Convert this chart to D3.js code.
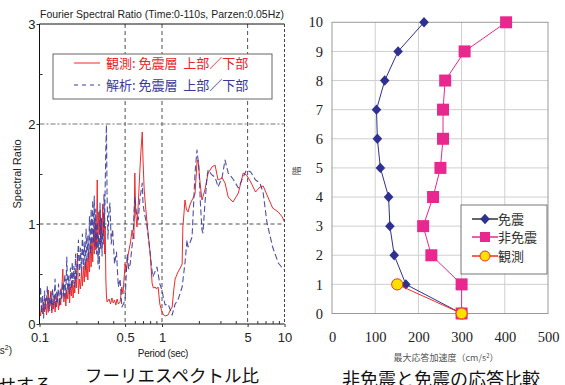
<!DOCTYPE html>
<html>
<head>
<meta charset="utf-8">
<script src="https://cdn.jsdelivr.net/npm/d3@7"></script>
<style>
  body { margin: 0; background: #fff; }
  svg { display: block; }
  .sans { font-family: "Liberation Sans", Arial, sans-serif; }
  .jp { font-family: "Noto Sans CJK JP", sans-serif; }
  .serif { font-family: "Times New Roman", "Liberation Serif", Tinos, "DejaVu Serif", serif; }
</style>
</head>
<body>
<svg id="chart" width="565" height="385"></svg>
<script>
// ---- left chart: Fourier spectral ratio (period sec, ratio) ----
var observed = [
  [0.100,0.14],[0.102,0.08],[0.104,0.19],[0.106,0.10],[0.108,0.22],[0.110,0.12],[0.112,0.26],[0.114,0.09],
  [0.116,0.18],[0.118,0.34],[0.120,0.13],[0.122,0.24],[0.124,0.33],[0.126,0.11],[0.128,0.21],[0.130,0.15],
  [0.132,0.28],[0.134,0.12],[0.136,0.23],[0.138,0.17],[0.140,0.30],[0.143,0.14],[0.146,0.26],[0.149,0.19],
  [0.152,0.36],[0.155,0.55],[0.158,0.22],[0.161,0.31],[0.164,0.18],[0.167,0.34],[0.170,0.25],[0.173,0.40],
  [0.176,0.21],[0.179,0.37],[0.182,0.28],[0.185,0.44],[0.188,0.26],[0.191,0.39],[0.194,0.31],[0.197,0.48],
  [0.200,0.36],[0.204,0.71],[0.208,0.30],[0.212,0.45],[0.216,0.35],[0.220,0.52],[0.224,0.38],[0.228,0.58],
  [0.232,0.42],[0.236,0.62],[0.240,0.47],[0.244,0.66],[0.248,0.44],[0.252,0.72],[0.256,0.52],[0.260,0.80],
  [0.264,0.57],[0.268,0.86],[0.272,0.62],[0.276,0.95],[0.280,0.70],[0.284,1.05],[0.288,0.74],[0.292,0.84],
  [0.296,1.44],[0.300,0.82],[0.304,1.12],[0.308,0.90],[0.312,1.14],[0.316,0.78],[0.320,1.06],[0.324,0.85],
  [0.328,1.20],[0.332,0.92],[0.336,1.10],[0.340,0.70],[0.344,0.98],[0.348,0.45],[0.352,0.28],[0.356,0.22],
  [0.37,0.25],[0.38,0.20],[0.39,0.26],[0.40,0.21],[0.41,0.24],[0.42,0.19],[0.43,0.25],[0.44,0.20],
  [0.455,0.22],[0.47,0.37],[0.48,0.30],[0.50,0.60],[0.51,0.52],[0.53,0.70],[0.55,0.80],[0.57,0.94],
  [0.59,0.85],[0.60,1.51],[0.61,1.10],[0.625,0.97],[0.64,1.20],[0.66,1.54],[0.675,1.75],[0.69,1.92],
  [0.70,1.64],[0.715,1.35],[0.73,1.21],[0.75,1.05],[0.77,0.91],[0.80,0.71],[0.83,0.41],[0.85,0.36],
  [0.88,0.37],[0.90,0.35],[0.93,0.37],[0.96,0.20],[1.00,0.12],[1.03,0.09],[1.06,0.08],[1.12,0.09],
  [1.16,0.13],[1.21,0.17],[1.25,0.35],[1.28,0.45],[1.35,0.52],[1.41,0.56],[1.46,0.60],[1.48,0.97],
  [1.51,1.10],[1.54,1.24],[1.58,1.15],[1.63,1.12],[1.70,1.20],[1.76,1.24],[1.86,1.30],[1.93,1.61],
  [1.97,1.64],[2.05,1.40],[2.12,1.24],[2.24,1.34],[2.38,1.51],[2.56,1.57],[2.71,1.59],[2.87,1.44],
  [3.1,1.46],[3.27,1.41],[3.47,1.27],[3.8,1.22],[4.2,1.31],[4.6,1.51],[4.9,1.49],[5.3,1.42],
  [5.8,1.32],[6.3,1.37],[6.7,1.38],[7.2,1.29],[8.0,1.16],[8.9,1.12],[9.6,1.07],[10,1.02]
];

var analysed = [
  [0.100,0.20],[0.102,0.37],[0.104,0.11],[0.106,0.28],[0.108,0.06],[0.110,0.33],[0.112,0.15],[0.114,0.24],
  [0.116,0.38],[0.118,0.12],[0.120,0.26],[0.122,0.18],[0.124,0.31],[0.126,0.14],[0.128,0.35],[0.130,0.19],
  [0.132,0.27],[0.134,0.45],[0.136,0.17],[0.138,0.32],[0.140,0.22],[0.143,0.40],[0.146,0.18],[0.149,0.35],
  [0.152,0.24],[0.155,0.42],[0.158,0.28],[0.161,0.50],[0.164,0.26],[0.167,0.67],[0.170,0.33],[0.173,0.48],
  [0.176,0.30],[0.179,0.56],[0.182,0.35],[0.185,0.62],[0.188,0.40],[0.191,0.58],[0.194,0.37],[0.197,0.70],
  [0.200,0.45],[0.204,0.60],[0.208,0.84],[0.212,0.48],[0.216,0.76],[0.220,0.52],[0.224,0.90],[0.228,0.58],
  [0.232,0.82],[0.236,0.55],[0.240,0.95],[0.244,0.62],[0.248,0.88],[0.252,0.66],[0.256,1.08],[0.260,0.70],
  [0.264,1.15],[0.268,0.75],[0.272,1.24],[0.276,0.82],[0.280,1.28],[0.284,0.78],[0.288,1.15],[0.292,0.70],
  [0.296,1.02],[0.300,0.60],[0.304,0.88],[0.308,0.55],[0.312,1.21],[0.316,0.75],[0.320,1.05],[0.324,0.68],
  [0.328,0.92],[0.332,0.80],[0.336,1.30],[0.340,0.96],[0.344,1.40],[0.348,1.75],[0.352,1.99],[0.356,1.30],
  [0.362,0.85],[0.368,1.10],[0.376,1.21],[0.385,0.80],[0.395,0.95],[0.41,0.60],[0.425,0.72],[0.44,0.37],
  [0.455,0.45],[0.47,0.17],[0.485,0.20],[0.50,0.24],[0.52,0.70],[0.535,0.55],[0.55,0.60],[0.58,0.87],
  [0.60,1.27],[0.62,1.10],[0.64,1.04],[0.66,1.25],[0.69,1.41],[0.70,1.20],[0.72,1.10],[0.75,1.00],
  [0.80,0.71],[0.84,0.47],[0.875,0.52],[0.91,0.57],[0.96,0.40],[1.00,0.34],[1.02,0.28],[1.06,0.19],
  [1.12,0.20],[1.17,0.14],[1.21,0.09],[1.28,0.20],[1.35,0.24],[1.46,0.37],[1.54,0.61],[1.60,0.84],
  [1.63,0.77],[1.70,0.82],[1.76,0.87],[1.86,1.51],[1.93,1.74],[2.00,1.57],[2.06,1.20],[2.12,0.94],
  [2.16,0.91],[2.24,1.20],[2.33,1.47],[2.38,1.54],[2.56,1.49],[2.71,1.47],[2.87,1.37],[3.1,1.47],
  [3.27,1.64],[3.47,1.51],[3.8,1.45],[4.2,1.36],[4.6,1.47],[4.9,1.54],[5.3,1.52],[5.8,1.44],
  [6.3,1.41],[6.7,1.31],[7.2,1.01],[8.0,0.77],[8.9,0.61],[9.6,0.56],[10,0.54]
];

var periodTicks = [0.1, 0.5, 1, 5, 10];
var periodMinor = [0.2, 0.3, 0.4, 0.6, 0.7, 0.8, 0.9, 2, 3, 4, 6, 7, 8, 9];
var ratioTicks = [0, 1, 2, 3];
var ratioMinor = [0.5, 1.5, 2.5];

// ---- right chart: peak response acceleration per floor ----
var floors = [0, 1, 2, 3, 4, 5, 6, 7, 8, 9, 10];
var isolatedAcc = [300, 171, 144, 134, 131, 112, 105, 103, 122, 153, 213];
var nonIsolatedAcc = [300, 300, 230, 211, 234, 251, 257, 257, 262, 307, 403];
var measuredFloors = [0, 1];
var measuredAcc = [300, 151];
var accTicks = [0, 100, 200, 300, 400, 500];

var svg = d3.select("#chart");
svg.append("rect").attr("width", 565).attr("height", 385).attr("fill", "#fff");

// ===================== left chart =====================
var x1 = d3.scaleLog().domain([0.1, 10]).range([39.5, 284.5]);
var y1 = d3.scaleLinear().domain([0, 3]).range([324, 24]);

// dashed grid
svg.append("g").selectAll("line").data([0.5, 1, 5]).join("line")
  .attr("x1", d => x1(d)).attr("x2", d => x1(d))
  .attr("y1", y1(3)).attr("y2", y1(0))
  .attr("stroke", "#222").attr("stroke-width", 0.8).attr("stroke-dasharray", "4,3");
svg.append("line")
  .attr("x1", x1(0.1)).attr("x2", x1(10)).attr("y1", y1(1)).attr("y2", y1(1))
  .attr("stroke", "#222").attr("stroke-width", 0.8).attr("stroke-dasharray", "4,3");
svg.append("line")
  .attr("x1", x1(0.1)).attr("x2", x1(10)).attr("y1", y1(2)).attr("y2", y1(2))
  .attr("stroke", "#777").attr("stroke-width", 1).attr("stroke-dasharray", "5,2,2,2");

// spectra
var spec = d3.line().x(d => x1(d[0])).y(d => y1(d[1]));
svg.append("path").datum(observed)
  .attr("fill", "none").attr("stroke", "#ee2b2b").attr("stroke-width", 1)
  .attr("stroke-linejoin", "round").attr("d", spec);
svg.append("path").datum(analysed)
  .attr("fill", "none").attr("stroke", "#3b3c9c").attr("stroke-width", 1.1).attr("stroke-opacity", 0.9)
  .attr("stroke-dasharray", "6,3").attr("stroke-linejoin", "round").attr("d", spec);

// frame
svg.append("line").attr("x1", 39.5).attr("x2", 39.5).attr("y1", 24).attr("y2", 324).attr("stroke", "#111");
svg.append("line").attr("x1", 39.5).attr("x2", 284.5).attr("y1", 324).attr("y2", 324).attr("stroke", "#111");
svg.append("line").attr("x1", 39.5).attr("x2", 284.5).attr("y1", 24).attr("y2", 24).attr("stroke", "#111");
svg.append("line").attr("x1", 284.5).attr("x2", 284.5).attr("y1", 24).attr("y2", 324)
  .attr("stroke", "#444").attr("stroke-dasharray", "3,2");

// axes
var xAxis1 = svg.append("g").attr("transform", "translate(0,324)")
  .call(d3.axisBottom(x1).tickValues(periodTicks).tickFormat(d => String(d)).tickSize(3).tickPadding(6));
var xMinor1 = svg.append("g").attr("transform", "translate(0,324)")
  .call(d3.axisBottom(x1).tickValues(periodMinor).tickFormat("").tickSize(-3));
var yAxis1 = svg.append("g").attr("transform", "translate(39.5,0)")
  .call(d3.axisLeft(y1).tickValues(ratioTicks).tickFormat(d3.format("d")).tickSize(3).tickPadding(1));
var yMinor1 = svg.append("g").attr("transform", "translate(39.5,0)")
  .call(d3.axisLeft(y1).tickValues(ratioMinor).tickFormat("").tickSize(-3));
[xAxis1, xMinor1, yAxis1, yMinor1].forEach(function(g) {
  g.select(".domain").remove();
  g.attr("font-family", null);
  g.selectAll("text").attr("class", "sans").attr("font-size", 13).attr("fill", "#222");
  g.selectAll("line").attr("stroke", "#333");
});

svg.append("text").attr("class", "sans").attr("x", 162).attr("y", 11).attr("dy", "0.71em")
  .attr("text-anchor", "middle").attr("font-size", 10.5).attr("fill", "#222")
  .attr("textLength", 244).attr("lengthAdjust", "spacingAndGlyphs")
  .text("Fourier Spectral Ratio (Time:0-110s, Parzen:0.05Hz)");

svg.append("text").attr("class", "sans").attr("transform", "translate(21,174) rotate(-90)")
  .attr("text-anchor", "middle").attr("font-size", 11).attr("fill", "#222")
  .text("Spectral Ratio");

svg.append("text").attr("class", "sans").attr("x", 163).attr("y", 357)
  .attr("text-anchor", "middle").attr("font-size", 10).attr("fill", "#222")
  .attr("letter-spacing", -0.3)
  .text("Period (sec)");

// legend
var leg1 = svg.append("g");
leg1.append("rect").attr("x", 53).attr("y", 54).attr("width", 219).attr("height", 45)
  .attr("fill", "#fff").attr("stroke", "#666").attr("stroke-width", 1);
leg1.append("line").attr("x1", 74).attr("x2", 100).attr("y1", 63).attr("y2", 63)
  .attr("stroke", "#ee2b2b").attr("stroke-width", 1);
leg1.append("text").attr("class", "jp").attr("x", 106).attr("y", 68).style("white-space", "pre")
  .attr("font-size", 13).attr("fill", "#e8262c").text("観測: 免震層  上部／下部");
leg1.append("line").attr("x1", 74).attr("x2", 100).attr("y1", 85).attr("y2", 85)
  .attr("stroke", "#3b3c9c").attr("stroke-width", 1.2).attr("stroke-dasharray", "4,4");
leg1.append("text").attr("class", "jp").attr("x", 106).attr("y", 90).style("white-space", "pre")
  .attr("font-size", 13).attr("fill", "#3a3a96").text("解析: 免震層  上部／下部");

// captions at the bottom
svg.append("text").attr("class", "jp").attr("x", 172).attr("y", 382)
  .attr("text-anchor", "middle").attr("font-size", 17.5).attr("fill", "#111")
  .text("フーリエスペクトル比");
svg.append("text").attr("class", "sans").attr("x", 12).attr("y", 354)
  .attr("text-anchor", "end").attr("font-size", 10).attr("fill", "#222")
  .html("(cm/s<tspan dy='-4' font-size='7'>2</tspan><tspan dy='4'>)</tspan>");
svg.append("text").attr("class", "jp").attr("x", -2).attr("y", 392)
  .attr("font-size", 18).attr("fill", "#111").text("せする");

// ===================== right chart =====================
var x2 = d3.scaleLinear().domain([0, 500]).range([332, 548]);
var y2 = d3.scaleLinear().domain([0, 10]).range([313.5, 22.3]);

var grid2 = svg.append("g");
grid2.selectAll(".gv").data(accTicks.slice(1, -1)).join("line")
  .attr("x1", d => x2(d)).attr("x2", d => x2(d)).attr("y1", y2(10)).attr("y2", y2(0))
  .attr("stroke", "#cfcfcf").attr("stroke-width", 1);
grid2.selectAll(".gh").data(floors.slice(1, -1)).join("line")
  .attr("x1", x2(0)).attr("x2", x2(500)).attr("y1", d => y2(d)).attr("y2", d => y2(d))
  .attr("stroke", "#cfcfcf").attr("stroke-width", 1);
svg.append("rect").attr("x", x2(0)).attr("y", y2(10))
  .attr("width", x2(500) - x2(0)).attr("height", y2(0) - y2(10))
  .attr("fill", "none").attr("stroke", "#9a9a9a").attr("stroke-width", 1);

var xAxis2 = svg.append("g").attr("transform", "translate(0," + y2(0) + ")")
  .call(d3.axisBottom(x2).tickValues(accTicks).tickSize(0).tickPadding(18));
var yAxis2 = svg.append("g").attr("transform", "translate(" + x2(0) + ",0)")
  .call(d3.axisLeft(y2).tickValues(floors).tickSize(0).tickPadding(9));
[xAxis2, yAxis2].forEach(function(g) {
  g.select(".domain").remove();
  g.attr("font-family", null);
  g.selectAll("text").attr("class", "serif").attr("font-size", 14.5).attr("fill", "#222");
});

var acc = d3.line().x(d => x2(d.v)).y(d => y2(d.f));
var nonIso = floors.map((f, i) => ({ f: f, v: nonIsolatedAcc[i] }));
var iso = floors.map((f, i) => ({ f: f, v: isolatedAcc[i] }));
var meas = measuredFloors.map((f, i) => ({ f: f, v: measuredAcc[i] }));

var PINK = "#e8288f", NAVY = "#2e3192", RED = "#ee3124", YELLOW = "#ffe100";
var diamond = "M0,-5.2L4.8,0L0,5.2L-4.8,0Z";

svg.append("path").datum(nonIso).attr("fill", "none").attr("stroke", PINK).attr("stroke-width", 1).attr("d", acc);
svg.append("g").selectAll("rect").data(nonIso).join("rect")
  .attr("x", d => x2(d.v) - 6).attr("y", d => y2(d.f) - 6).attr("width", 12).attr("height", 12)
  .attr("fill", PINK);

svg.append("path").datum(iso).attr("fill", "none").attr("stroke", NAVY).attr("stroke-width", 1).attr("d", acc);
svg.append("g").selectAll("path").data(iso).join("path")
  .attr("transform", d => "translate(" + x2(d.v) + "," + y2(d.f) + ")")
  .attr("d", diamond).attr("fill", NAVY);

svg.append("path").datum(meas).attr("fill", "none").attr("stroke", RED).attr("stroke-width", 1).attr("d", acc);
svg.append("g").selectAll("circle").data(meas).join("circle")
  .attr("cx", d => x2(d.v)).attr("cy", d => y2(d.f)).attr("r", 5.6)
  .attr("fill", YELLOW).attr("stroke", RED).attr("stroke-width", 1);

// legend
var leg2 = svg.append("g");
leg2.append("rect").attr("x", 461).attr("y", 205).attr("width", 86).attr("height", 69)
  .attr("fill", "#fff").attr("stroke", "#777").attr("stroke-width", 1);
var legItems = [
  { label: "免震", color: "#333", y: 219, mark: "diamond" },
  { label: "非免震", color: PINK, y: 237, mark: "square" },
  { label: "観測", color: RED, y: 256, mark: "circle" }
];
legItems.forEach(function(it) {
  leg2.append("line").attr("x1", 472).attr("x2", 498).attr("y1", it.y).attr("y2", it.y)
    .attr("stroke", it.color).attr("stroke-width", 1.5);
  if (it.mark === "diamond") {
    leg2.append("path").attr("transform", "translate(485," + it.y + ")").attr("d", diamond).attr("fill", NAVY);
  } else if (it.mark === "square") {
    leg2.append("rect").attr("x", 480).attr("y", it.y - 5).attr("width", 10).attr("height", 10).attr("fill", PINK);
  } else {
    leg2.append("circle").attr("cx", 485).attr("cy", it.y).attr("r", 5)
      .attr("fill", YELLOW).attr("stroke", RED).attr("stroke-width", 1);
  }
  leg2.append("text").attr("class", "jp").attr("x", 498).attr("y", it.y + 5)
    .attr("font-size", 13).attr("fill", "#333").text(it.label);
});

svg.append("text").attr("class", "jp").attr("transform", "translate(300,171) rotate(-90)")
  .attr("text-anchor", "middle").attr("font-size", 9).attr("fill", "#444").text("階");
svg.append("text").attr("class", "jp").attr("x", 446).attr("y", 361)
  .attr("text-anchor", "middle").attr("font-size", 9).attr("fill", "#555")
  .html("最大応答加速度（cm/s<tspan dy='-3' font-size='6'>2</tspan><tspan dy='3'>）</tspan>");
svg.append("text").attr("class", "jp").attr("x", 441).attr("y", 386)
  .attr("text-anchor", "middle").attr("font-size", 18).attr("fill", "#111")
  .text("非免震と免震の応答比較");
</script>
</body>
</html>
